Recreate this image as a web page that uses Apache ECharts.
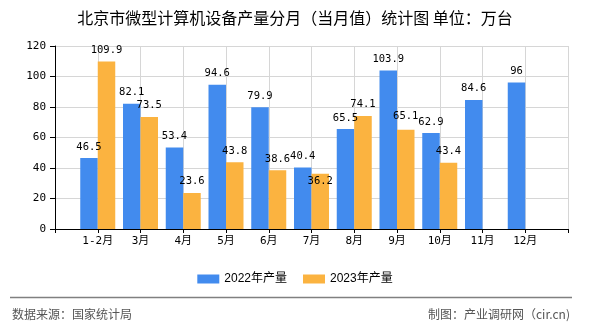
<!DOCTYPE html>
<html>
<head>
<meta charset="utf-8">
<script src="https://cdn.jsdelivr.net/npm/echarts@6/dist/echarts.min.js"></script>
<style>html,body{margin:0;padding:0;background:#fff}#c{width:590px;height:330px}</style>
</head>
<body>
<div id="c"></div>
<script>
var categories = ['', '1-2月', '3月', '4月', '5月', '6月', '7月', '8月', '9月', '10月', '11月', '12月', ''];
var values2022 = [null, 46.5, 82.1, 53.4, 94.6, 79.9, 40.4, 65.5, 103.9, 62.9, 84.6, 96, null];
var values2023 = [null, 109.9, 73.5, 23.6, 43.8, 38.6, 36.2, 74.1, 65.1, 43.4, null, null, null];
var yTicks = [0, 20, 40, 60, 80, 100, 120];
var seriesNames = ['2022年产量', '2023年产量'];
var titleText = '北京市微型计算机设备产量分月（当月值）统计图 单位：万台';
var sourceText = '数据来源：国家统计局';
var creditText = '制图：产业调研网（cir.cn)';

var monoFont = '"DejaVu Sans Mono", "Noto Sans CJK SC", monospace';
var labelOffsets2023 = {6: [0, 19], 8: [0, -2]};
var labelOffsets2022 = {};

function toData(arr, offsets) {
  return arr.map(function (v, i) {
    if (offsets[i]) return {value: v, label: {offset: offsets[i]}};
    return v;
  });
}

var chart = echarts.init(document.getElementById('c'), null, {renderer: 'canvas'});
chart.setOption({
  animation: false,
  backgroundColor: '#fff',
  title: {
    text: titleText,
    left: 'center',
    top: 5,
    textStyle: {fontFamily: '"Noto Sans CJK SC", sans-serif', fontSize: 16, fontWeight: 'normal', color: '#000'}
  },
  legend: {
    data: seriesNames,
    left: 'center',
    top: 268,
    itemWidth: 22,
    itemHeight: 9,
    itemGap: 16,
    icon: 'rect',
    textStyle: {fontFamily: '"Liberation Sans", "Noto Sans CJK SC", sans-serif', fontSize: 12, color: '#000'}
  },
  grid: {left: 55, right: 22, top: 46, bottom: 101, containLabel: false},
  xAxis: {
    type: 'category',
    data: categories,
    boundaryGap: false,
    axisLine: {lineStyle: {color: '#000'}},
    axisTick: {show: true, length: 4, interval: 0, lineStyle: {color: '#000'}},
    axisLabel: {interval: 0, margin: 7, color: '#000', fontFamily: monoFont, fontSize: 11},
    splitLine: {show: true, interval: 0, lineStyle: {color: '#d6d6d6'}}
  },
  yAxis: {
    type: 'value',
    min: yTicks[0],
    max: yTicks[yTicks.length - 1],
    interval: 20,
    axisLine: {show: true, lineStyle: {color: '#000'}},
    axisTick: {show: true, length: 5, lineStyle: {color: '#000'}},
    axisLabel: {margin: 9, color: '#000', fontFamily: monoFont, fontSize: 11},
    splitLine: {show: true, lineStyle: {color: '#d6d6d6'}}
  },
  series: [
    {
      name: seriesNames[0],
      type: 'bar',
      data: toData(values2022, labelOffsets2022),
      barWidth: 17.5,
      barGap: '0%',
      itemStyle: {color: '#428BEE'},
      label: {show: true, position: 'top', distance: 6, color: '#000', fontFamily: monoFont, fontSize: 10.5}
    },
    {
      name: seriesNames[1],
      type: 'bar',
      data: toData(values2023, labelOffsets2023),
      barWidth: 17.5,
      barGap: '0%',
      itemStyle: {color: '#FBB340'},
      label: {show: true, position: 'top', distance: 6, color: '#000', fontFamily: monoFont, fontSize: 10.5}
    }
  ],
  graphic: [
    {type: 'line', shape: {x1: 10, y1: 297.5, x2: 572, y2: 297.5}, style: {stroke: '#808080', lineWidth: 1.5}},
    {type: 'text', left: 12, top: 308, style: {text: sourceText, fill: '#555', font: '12px "Noto Sans CJK SC", sans-serif'}},
    {type: 'text', right: 20, top: 308, style: {text: creditText, fill: '#555', font: '12px "Noto Sans CJK SC", sans-serif'}}
  ]
});
</script>
</body>
</html>
